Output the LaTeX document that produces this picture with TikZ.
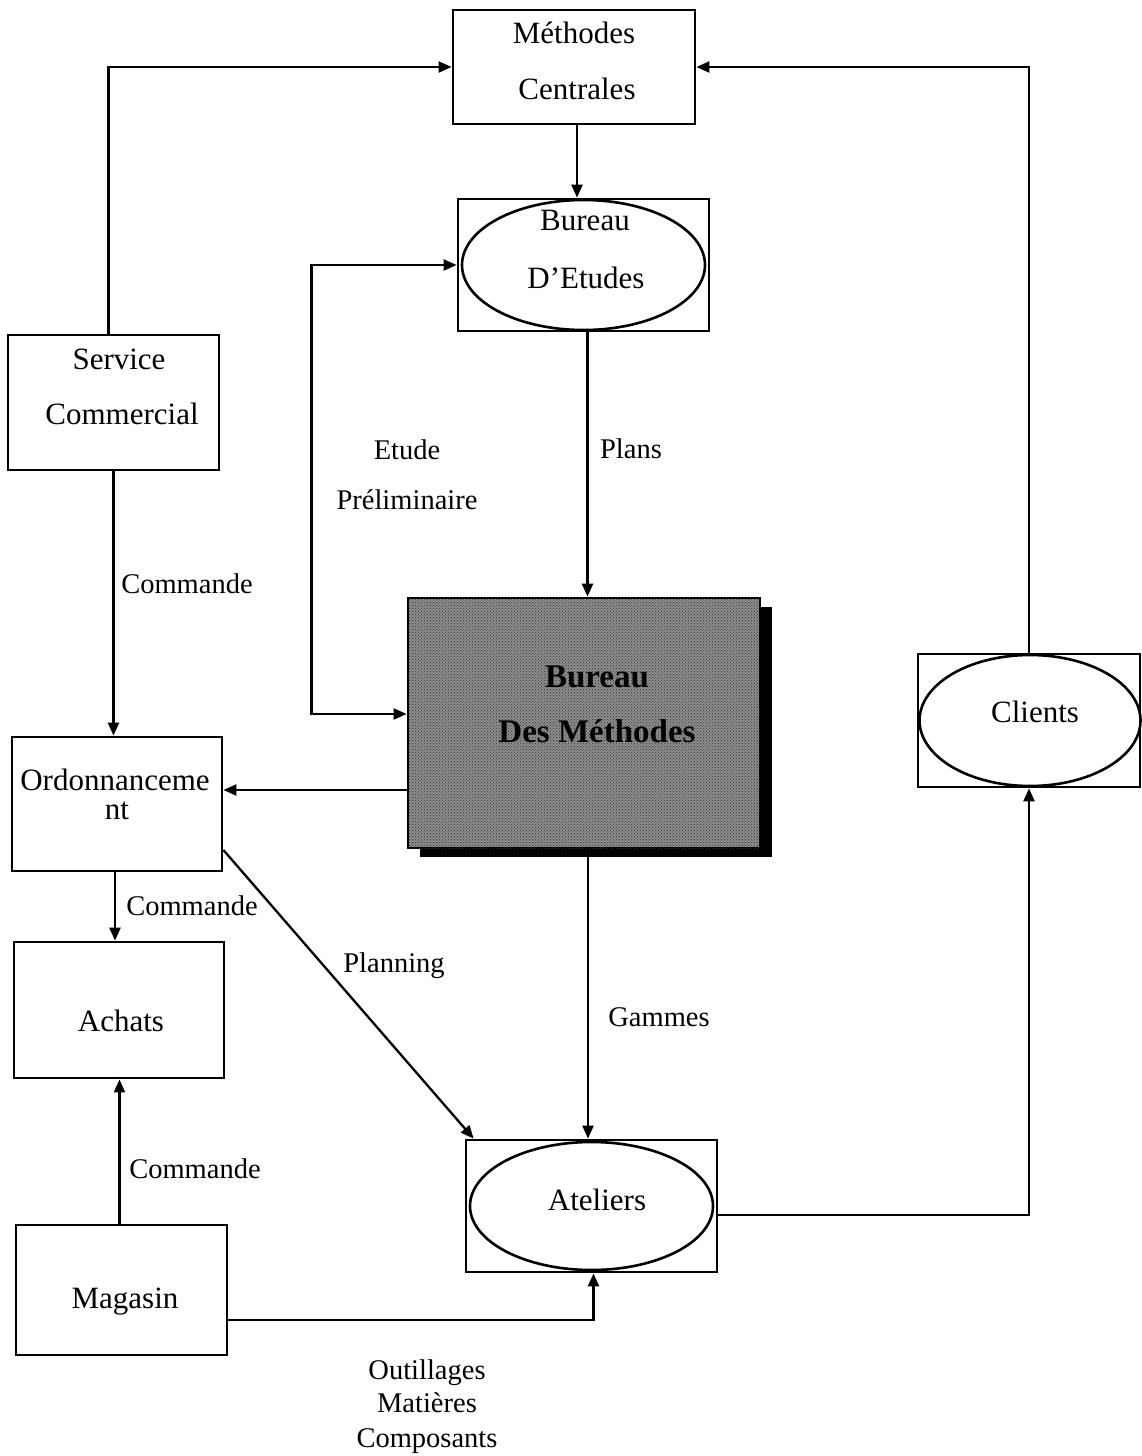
\documentclass[tikz,border=0pt]{standalone}
\usepackage{fontspec}
\setmainfont{Liberation Serif}
\usetikzlibrary{arrows.meta,shapes.geometric,shadows,patterns}
\begin{document}
\begin{tikzpicture}[x=1pt,y=-1pt,
  box/.style={draw, line width=2.8pt, rectangle, inner sep=0pt},
  oval/.style={draw, line width=2.6pt, ellipse, inner sep=0pt},
  word/.style={anchor=base, inner sep=0pt, font=\fontsize{31}{37}\selectfont},
  lbl/.style={anchor=base, inner sep=0pt, font=\fontsize{28.5}{34}\selectfont},
  flow/.style={line width=2.3pt, -{Triangle[length=13pt,width=11pt]}},
  both/.style={line width=2.3pt, {Triangle[length=13pt,width=11pt]}-{Triangle[length=13pt,width=11pt]}},
]
\useasboundingbox (0,0) rectangle (1141,1456);
\fill[white] (0,0) rectangle (1141,1456);

% ---- boxes ----
\node[box, minimum width=242pt, minimum height=114pt] (mc) at (574,67) {};
\node[box, minimum width=251pt, minimum height=132pt] (be) at (583.5,265) {};
\node[oval, minimum width=243pt, minimum height=130pt] (be-o) at (583.5,265) {};
\node[box, minimum width=211pt, minimum height=135pt] (sc) at (113.5,402.5) {};
\node[box, minimum width=352pt, minimum height=250pt, fill=black!45,
      drop shadow={shadow xshift=12pt, shadow yshift=-9pt, fill=black, opacity=1},
      postaction={pattern=crosshatch dots, pattern color=black!80}] (bm) at (584,723) {};
\node[box, minimum width=210pt, minimum height=134pt] (ord) at (117,804) {};
\node[box, minimum width=210pt, minimum height=136pt] (ach) at (119,1010) {};
\node[box, minimum width=211pt, minimum height=130pt] (mag) at (121.5,1290) {};
\node[box, minimum width=251pt, minimum height=132pt] (at) at (591.5,1206) {};
\node[oval, minimum width=243pt, minimum height=128pt] (at-o) at (591.5,1206) {};
\node[box, minimum width=222pt, minimum height=133pt] (cl) at (1029,720.5) {};
\node[oval, minimum width=221pt, minimum height=131pt] (cl-o) at (1030,720.5) {};

% ---- box texts ----
\node[word] (mc-1) at (574,43) {Méthodes};
\node[word] (mc-2) at (577,99) {Centrales};
\node[word] (be-1) at (585,230) {Bureau};
\node[word] (be-2) at (586,288) {D’Etudes};
\node[word] (sc-1) at (119,369) {Service};
\node[word] (sc-2) at (122,424) {Commercial};
\node[word, font=\fontsize{33}{40}\selectfont\bfseries] (bm-1) at (597,687) {Bureau};
\node[word, font=\fontsize{33}{40}\selectfont\bfseries] (bm-2) at (597,742) {Des Méthodes};
\node[word] (ord-1) at (115,790) {Ordonnanceme};
\node[word] (ord-2) at (117,819) {nt};
\node[word] (ach-1) at (121,1031) {Achats};
\node[word] (mag-1) at (125,1308) {Magasin};
\node[word] (at-1) at (597,1210) {Ateliers};
\node[word] (cl-1) at (1035,722) {Clients};

% ---- connectors ----
\draw[flow] ([xshift=-5pt]sc.north) |- (mc.west);
\draw[flow] (cl.north) |- (mc.east);
\draw[flow] ([xshift=3pt]mc.south) -- ([xshift=3pt]mc.south |- be.north);
\coordinate (be-b) at ([xshift=4pt]be.south);
\draw[flow] (be-b) -- (be-b |- bm.north);
\draw[both] ([yshift=9pt]bm.west) -- ++(-95,0) |- (be.west);
\coordinate (bm-o) at ([yshift=-67pt]bm.west);
\draw[flow] (bm-o) -- (bm-o -| ord.east);
\coordinate (bm-a) at ([xshift=4pt,yshift=-8pt]bm.south);
\draw[flow] (bm-a) -- (bm-a |- at.north);
\draw[flow] (sc.south) -- (sc.south |- ord.north);
\draw[flow] ([xshift=-2pt]ord.south) -- ([xshift=-2pt]ord.south |- ach.north);
\draw[flow] ([yshift=-46pt]ord.east) -- ([xshift=9pt]at.north west);
\draw[flow] ([xshift=-2pt]mag.north) -- ([xshift=-2pt]mag.north |- ach.south);
\draw[flow] ([yshift=-30pt]mag.east) -| ([xshift=2pt]at.south);
\draw[flow] ([yshift=-9pt]at.east) -| (cl.south);

% ---- flow labels ----
\node[lbl] (l-etude) at (407,459) {Etude};
\node[lbl] (l-prelim) at (407,509) {Préliminaire};
\node[lbl] (l-plans) at (631,458) {Plans};
\node[lbl] (l-cmd1) at (187,593) {Commande};
\node[lbl] (l-cmd2) at (192,915) {Commande};
\node[lbl] (l-plan) at (394,972) {Planning};
\node[lbl] (l-gam) at (659,1026) {Gammes};
\node[lbl] (l-cmd3) at (195,1178) {Commande};
\node[lbl] (l-out) at (427,1379) {Outillages};
\node[lbl] (l-mat) at (427,1412) {Matières};
\node[lbl] (l-comp) at (427,1447) {Composants};
\end{tikzpicture}
\end{document}
